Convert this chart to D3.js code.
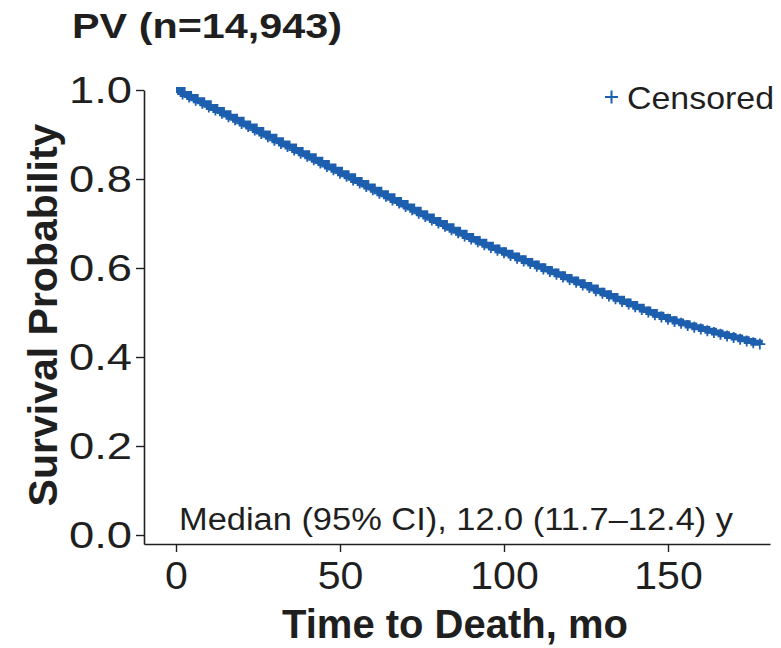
<!DOCTYPE html>
<html>
<head>
<meta charset="utf-8">
<script src="https://cdn.jsdelivr.net/npm/d3@7"></script>
<style>
  html, body { margin: 0; padding: 0; background: #fff; }
  svg { display: block; font-family: Arial, "Liberation Sans", Helvetica, sans-serif; }
</style>
</head>
<body>
<svg id="chart" width="781" height="648"></svg>
<script>
// Kaplan–Meier estimate of overall survival, PV cohort (sampled every 2 months)
const months = [
  0, 2, 4, 6, 8, 10, 12, 14, 16, 18, 20, 22, 24, 26, 28, 30, 32, 34, 36, 38,
  40, 42, 44, 46, 48, 50, 52, 54, 56, 58, 60, 62, 64, 66, 68, 70, 72, 74, 76, 78,
  80, 82, 84, 86, 88, 90, 92, 94, 96, 98, 100, 102, 104, 106, 108, 110, 112, 114, 116, 118,
  120, 122, 124, 126, 128, 130, 132, 134, 136, 138, 140, 142, 144, 146, 148, 150, 152, 154, 156, 158,
  160, 162, 164, 166, 168, 170, 172, 174, 176, 178
];
const survival = [
  1.000, 0.991, 0.984, 0.977, 0.970, 0.962, 0.955, 0.948, 0.940, 0.933,
  0.925, 0.918, 0.910, 0.902, 0.895, 0.887, 0.880, 0.873, 0.865, 0.858,
  0.851, 0.843, 0.836, 0.828, 0.821, 0.813, 0.806, 0.798, 0.791, 0.783,
  0.776, 0.768, 0.761, 0.753, 0.746, 0.738, 0.731, 0.723, 0.716, 0.708,
  0.701, 0.694, 0.686, 0.679, 0.672, 0.665, 0.659, 0.652, 0.646, 0.640,
  0.634, 0.628, 0.622, 0.616, 0.610, 0.604, 0.598, 0.592, 0.586, 0.580,
  0.574, 0.568, 0.562, 0.556, 0.549, 0.543, 0.537, 0.531, 0.525, 0.519,
  0.513, 0.507, 0.501, 0.495, 0.490, 0.485, 0.480, 0.476, 0.471, 0.467,
  0.463, 0.459, 0.455, 0.451, 0.447, 0.444, 0.440, 0.436, 0.432, 0.429
];

const xTicks = [0, 50, 100, 150];
const yTicks = [0, 0.2, 0.4, 0.6, 0.8, 1.0];

const titleText = "PV (n=14,943)";
const xLabel = "Time to Death, mo";
const yLabel = "Survival Probability";
const legendLabel = "Censored";
const medianNote = "Median (95% CI), 12.0 (11.7\u201312.4) y";

const blue = "#1d5fae";
const ink = "#1f1f1f";

const svg = d3.select("#chart");

// axes are offset a little from the data area (R base-graphics style)
const x = d3.scaleLinear().domain([-9.76, 181.1]).range([144, 770]);
const y = d3.scaleLinear().domain([-0.0202, 1]).range([544, 90]);

// widen a text element horizontally by a factor, keeping its anchor
function widen(sel, factor) {
  sel.each(function () {
    const len = this.getComputedTextLength();
    d3.select(this)
      .attr("textLength", len * factor)
      .attr("lengthAdjust", "spacingAndGlyphs");
  });
}

// title
svg.append("text")
  .attr("x", 72).attr("y", 38)
  .attr("font-size", 35).attr("font-weight", "bold")
  .attr("fill", ink)
  .attr("textLength", 270).attr("lengthAdjust", "spacingAndGlyphs")
  .text(titleText);

// y axis
const gy = svg.append("g")
  .attr("transform", `translate(${x.range()[0]},0)`)
  .call(d3.axisLeft(y).tickValues(yTicks).tickFormat(d3.format(".1f")).tickSize(8).tickSizeOuter(0).tickPadding(4));
gy.select(".domain").attr("stroke", ink).attr("stroke-width", 1.6);
gy.selectAll(".tick line").attr("stroke", ink).attr("stroke-width", 1.4);
gy.selectAll(".tick text")
  .attr("font-size", 36).attr("fill", ink)
  .attr("font-family", "Arial, 'Liberation Sans', sans-serif")
  .attr("dy", "0.36em")
  .call(widen, 1.26);

// x axis
const gx = svg.append("g")
  .attr("transform", `translate(0,${y.range()[0]})`)
  .call(d3.axisBottom(x).tickValues(xTicks).tickFormat(d3.format("d")).tickSize(8).tickSizeOuter(0).tickPadding(8));
gx.select(".domain").attr("stroke", ink).attr("stroke-width", 1.6);
gx.selectAll(".tick line").attr("stroke", ink).attr("stroke-width", 1.4);
gx.selectAll(".tick text")
  .attr("font-size", 38).attr("fill", ink)
  .attr("font-family", "Arial, 'Liberation Sans', sans-serif")
  .attr("dy", "0.76em")
  .call(widen, 1.08);

// axis titles
svg.append("text")
  .attr("x", 455).attr("y", 638)
  .attr("text-anchor", "middle")
  .attr("font-size", 40).attr("font-weight", "bold").attr("fill", ink)
  .text(xLabel);

svg.append("text")
  .attr("transform", "translate(57,315) rotate(-90)")
  .attr("text-anchor", "middle")
  .attr("font-size", 41).attr("font-weight", "bold").attr("fill", ink)
  .text(yLabel);

// survival curve (step function)
const pts = months.map((m, i) => [m, survival[i]]);
const line = d3.line()
  .x(d => x(d[0]))
  .y(d => y(d[1]))
  .curve(d3.curveStepAfter);

svg.append("path")
  .datum(pts)
  .attr("fill", "none")
  .attr("stroke", blue)
  .attr("stroke-width", 6)
  .attr("d", line);

// censoring marks along the curve
const cs = 5.5; // half-size of a "+" mark
svg.append("g")
  .selectAll("path")
  .data(pts.slice(1))
  .join("path")
  .attr("d", d => {
    const cx = x(d[0]), cy = y(d[1]);
    return `M${cx - cs},${cy}H${cx + cs}M${cx},${cy - cs}V${cy + cs}`;
  })
  .attr("stroke", blue)
  .attr("stroke-width", 1.8)
  .attr("fill", "none");

// legend
svg.append("path")
  .attr("d", "M605,97H618M611.5,90.5V103.5")
  .attr("stroke", blue).attr("stroke-width", 2).attr("fill", "none");
svg.append("text")
  .attr("x", 627).attr("y", 109)
  .attr("font-size", 32).attr("fill", ink)
  .attr("textLength", 147).attr("lengthAdjust", "spacingAndGlyphs")
  .text(legendLabel);

// median survival note
svg.append("text")
  .attr("x", 179).attr("y", 530)
  .attr("font-size", 31).attr("fill", ink)
  .attr("textLength", 554).attr("lengthAdjust", "spacingAndGlyphs")
  .text(medianNote);
</script>
</body>
</html>
